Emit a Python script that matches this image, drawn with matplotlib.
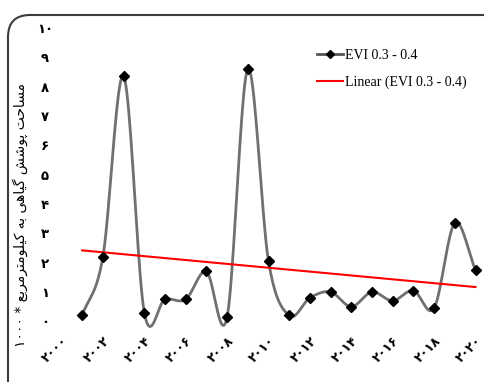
import numpy as np
import matplotlib
matplotlib.use('Agg')
import matplotlib.pyplot as plt
from matplotlib.patches import FancyBboxPatch

years = list(range(2001, 2021))
evi = [0.2, 2.2, 8.35, 0.3, 0.75, 0.75, 1.7, 0.15, 8.6, 2.05,
       0.2, 0.8, 1.0, 0.5, 1.0, 0.7, 1.05, 0.45, 3.35, 1.75]
tick_years = list(range(2000, 2021, 2))
ylabel = 'مساحت پوشش گیاهی به کیلومترمربع * ۱۰۰۰'

fa_digits = '۰۱۲۳۴۵۶۷۸۹'

def fa_num(n):
    return ''.join(fa_digits[int(c)] for c in str(n))

# presentation forms: isolated, final, initial, medial
forms = {
    'ا': ('\ufe8d', '\ufe8e', None, None),
    'ب': ('\ufe8f', '\ufe90', '\ufe91', '\ufe92'),
    'ت': ('\ufe95', '\ufe96', '\ufe97', '\ufe98'),
    'ح': ('\ufea1', '\ufea2', '\ufea3', '\ufea4'),
    'ر': ('\ufead', '\ufeae', None, None),
    'س': ('\ufeb1', '\ufeb2', '\ufeb3', '\ufeb4'),
    'ش': ('\ufeb5', '\ufeb6', '\ufeb7', '\ufeb8'),
    'ع': ('\ufec9', '\ufeca', '\ufecb', '\ufecc'),
    'ل': ('\ufedd', '\ufede', '\ufedf', '\ufee0'),
    'م': ('\ufee1', '\ufee2', '\ufee3', '\ufee4'),
    'ه': ('\ufee9', '\ufeea', '\ufeeb', '\ufeec'),
    'و': ('\ufeed', '\ufeee', None, None),
    'پ': ('\ufb56', '\ufb57', '\ufb58', '\ufb59'),
    'گ': ('\ufb92', '\ufb93', '\ufb94', '\ufb95'),
    'ک': ('\ufb8e', '\ufb8f', '\ufb90', '\ufb91'),
    'ی': ('\ufbfc', '\ufbfd', '\ufbfe', '\ufbff'),
}

def shape_word(w):
    out = []
    for i, ch in enumerate(w):
        if ch not in forms:
            out.append(ch)
            continue
        prev = w[i - 1] if i > 0 else None
        nxt = w[i + 1] if i + 1 < len(w) else None
        join_prev = prev in forms and forms[prev][2] is not None
        join_next = nxt in forms and forms[ch][2] is not None
        f = forms[ch]
        if join_prev and join_next:
            out.append(f[3])
        elif join_prev:
            out.append(f[1])
        elif join_next:
            out.append(f[2])
        else:
            out.append(f[0])
    return ''.join(out)

def rtl(text):
    parts = []
    for w in text.split(' '):
        if w and w[0] in fa_digits:
            parts.append(w)
        else:
            parts.append(shape_word(w)[::-1])
    return ' '.join(parts[::-1])

def smooth(x, y, n=20):
    # catmull-rom through the points
    x = np.asarray(x, float)
    y = np.asarray(y, float)
    px = np.concatenate([[2 * x[0] - x[1]], x, [2 * x[-1] - x[-2]]])
    py = np.concatenate([[2 * y[0] - y[1]], y, [2 * y[-1] - y[-2]]])
    xs, ys = [], []
    t = np.linspace(0, 1, n, endpoint=False)
    for i in range(1, len(px) - 2):
        for p, out in ((px, xs), (py, ys)):
            p0, p1, p2, p3 = p[i - 1], p[i], p[i + 1], p[i + 2]
            out.extend(0.5 * (2 * p1 + (-p0 + p2) * t
                              + (2 * p0 - 5 * p1 + 4 * p2 - p3) * t ** 2
                              + (-p0 + 3 * p1 - 3 * p2 + p3) * t ** 3))
    xs.append(x[-1])
    ys.append(y[-1])
    return np.array(xs), np.array(ys)

W, H = 484, 382
fig = plt.figure(figsize=(W / 100, H / 100), dpi=100)
ax = fig.add_axes([61.5 / W, (H - 336) / H, (W - 61.5) / W, (336 - 19) / H])

sx, sy = smooth(years, evi)
ax.plot(sx, sy, color='#707070', lw=2, solid_capstyle='round', zorder=2)
ax.plot(years, evi, ls='none', marker='D', ms=5.5, color='black', zorder=3)
ax.plot([], [], color='#555555', lw=2, marker='D', ms=4.5, mfc='black', mec='black',
        label='EVI 0.3 - 0.4')

k, b = np.polyfit(years, evi, 1)
tx = np.array([years[0], years[-1]])
ax.plot(tx, k * tx + b, color='red', lw=1.5, zorder=2, label='Linear (EVI 0.3 - 0.4)')

ax.set_xlim(2000, 2000 + (W - 61.5) / 20.7)
ax.set_ylim(-0.5, 10.3)
ax.set_xticks(tick_years)
ax.set_xticklabels([fa_num(y) for y in tick_years], rotation=45, ha='right',
                   rotation_mode='anchor', fontsize=9, fontweight='bold',
                   family=['DejaVu Sans'])
ax.set_yticks(range(0, 11))
ax.set_yticklabels([fa_num(v) for v in range(0, 11)], fontsize=9.5, fontweight='bold',
                   ha='center', family=['DejaVu Sans'])
ax.tick_params(axis='y', length=0, pad=12)
ax.tick_params(axis='x', length=0, pad=-1)
for s in ax.spines.values():
    s.set_visible(False)

leg = ax.legend(loc='upper left', bbox_to_anchor=((317 - 61.5) / (W - 61.5), (336 - 49) / 317),
                frameon=False, borderaxespad=0, borderpad=0,
                prop={'family': 'Liberation Serif', 'size': 10}, handlelength=1.9,
                handletextpad=0.15, labelspacing=0.95)

fig.text(20 / W, (H - 215) / H, rtl(ylabel), rotation=90, ha='center', va='center',
         fontsize=10, family=['DejaVu Sans'])

frame = FancyBboxPatch((0.08, -0.3), 5.2, (H - 15) / 100 + 0.3,
                       boxstyle='round,pad=0,rounding_size=0.22',
                       transform=fig.dpi_scale_trans, fill=False,
                       edgecolor='#3c3c3c', lw=1.5, clip_on=False)
fig.patches.append(frame)

fig.savefig('out.png', dpi=100)
